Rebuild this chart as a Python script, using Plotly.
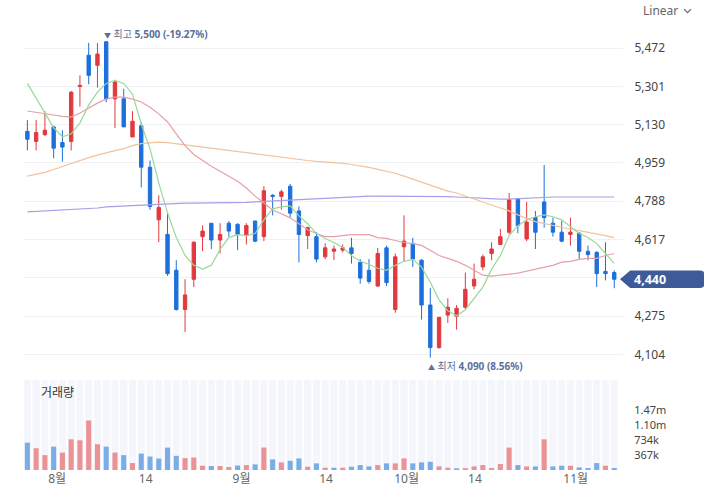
import plotly.graph_objects as go

# ---------------- data ----------------
x_labels = ["8월", "14", "9월", "14", "10월", "14", "11월"]
x_label_pos = [3.4, 13.5, 24.45, 34.1, 43.3, 51.1, 62.6]

open_ = [5100, 5055, 5085, 5120, 5050, 5055, 5300, 5440, 5395, 5500,
         5245, 5245, 5075, 5125, 4940, 4705, 4640, 4480, 4305, 4440,
         4630, 4690, 4615, 4690, 4685, 4635, 4700, 4630, 4815, 4810,
         4855, 4745, 4635, 4630, 4540, 4565, 4570, 4580, 4515, 4480,
         4410, 4580, 4305, 4585, 4600, 4525, 4325, 4135, 4280, 4275,
         4315, 4410, 4495, 4555, 4595, 4650, 4800, 4620, 4715, 4785,
         4690, 4650, 4640, 4645, 4565, 4560, 4475, 4470]
high = [5150, 5150, 5190, 5125, 5105, 5280, 5350, 5495, 5495, 5500,
        5330, 5290, 5190, 5140, 4970, 4815, 4735, 4525, 4440, 4610,
        4680, 4690, 4690, 4700, 4690, 4690, 4700, 4855, 4820, 4840,
        4865, 4765, 4675, 4650, 4600, 4590, 4595, 4625, 4530, 4530,
        4580, 4590, 4555, 4725, 4625, 4530, 4400, 4270, 4355, 4325,
        4470, 4510, 4550, 4605, 4665, 4825, 4800, 4785, 4745, 4950,
        4715, 4700, 4715, 4650, 4590, 4565, 4605, 4480]
low = [5015, 5015, 5080, 4980, 4965, 5015, 5210, 5310, 5295, 5230,
       5115, 5120, 5075, 4850, 4750, 4605, 4455, 4300, 4205, 4405,
       4565, 4575, 4555, 4630, 4570, 4595, 4605, 4610, 4725, 4750,
       4715, 4515, 4575, 4515, 4530, 4525, 4560, 4510, 4420, 4420,
       4405, 4410, 4290, 4520, 4495, 4260, 4090, 4130, 4245, 4215,
       4305, 4395, 4480, 4525, 4595, 4640, 4645, 4610, 4575, 4670,
       4630, 4605, 4590, 4530, 4525, 4405, 4435, 4400]
close = [5065, 5095, 5105, 5025, 5030, 5275, 5305, 5350, 5445, 5245,
         5320, 5120, 5145, 4940, 4765, 4760, 4465, 4305, 4370, 4605,
         4655, 4615, 4640, 4655, 4640, 4680, 4610, 4835, 4810, 4830,
         4735, 4640, 4670, 4530, 4580, 4575, 4580, 4555, 4445, 4430,
         4555, 4425, 4540, 4610, 4530, 4325, 4135, 4270, 4315, 4310,
         4395, 4440, 4540, 4575, 4630, 4795, 4680, 4695, 4650, 4715,
         4650, 4610, 4650, 4565, 4550, 4465, 4465, 4440]

ma5 = [5314, 5248, 5182, 5116, 5076, 5089, 5138, 5217, 5275, 5314,
       5328, 5314, 5266, 5133, 5023, 4869, 4736, 4626, 4546, 4502,
       4485, 4502, 4573, 4626, 4639, 4635, 4644, 4705, 4754, 4763,
       4767, 4723, 4688, 4644, 4622, 4604, 4582, 4546, 4520, 4507,
       4489, 4480, 4502, 4520, 4529, 4494, 4427, 4348, 4299, 4277,
       4304, 4352, 4405, 4485, 4546, 4635, 4679, 4705, 4719, 4727,
       4719, 4705, 4674, 4644, 4626, 4599, 4555, 4511]
ma20 = [5191, 5186, 5180, 5173, 5167, 5164, 5182, 5204, 5226, 5244,
        5253, 5253, 5244, 5231, 5208, 5178, 5142, 5089, 5036, 4997,
        4970, 4944, 4922, 4900, 4877, 4847, 4811, 4780, 4749, 4732,
        4714, 4688, 4661, 4644, 4630, 4630, 4635, 4639, 4639, 4639,
        4626, 4622, 4613, 4604, 4599, 4591, 4569, 4546, 4533, 4520,
        4502, 4480, 4458, 4454, 4458, 4463, 4467, 4476, 4485, 4494,
        4502, 4516, 4520, 4529, 4533, 4533, 4546, 4555]
ma60 = [4900, 4908, 4917, 4930, 4944, 4957, 4970, 4983, 4994, 5005,
        5014, 5023, 5036, 5045, 5050, 5052, 5050, 5045, 5039, 5034,
        5030, 5023, 5019, 5014, 5010, 5003, 4997, 4992, 4988, 4983,
        4979, 4975, 4970, 4966, 4964, 4961, 4957, 4952, 4946, 4939,
        4930, 4922, 4913, 4900, 4886, 4873, 4860, 4847, 4833, 4825,
        4811, 4798, 4785, 4772, 4758, 4745, 4727, 4710, 4697, 4688,
        4679, 4670, 4663, 4657, 4650, 4644, 4635, 4626]
ma120 = [4741, 4743, 4745, 4747, 4749, 4752, 4754, 4756, 4758, 4763,
         4765, 4767, 4769, 4772, 4774, 4776, 4778, 4778, 4780, 4780,
         4780, 4780, 4780, 4780, 4780, 4783, 4785, 4787, 4789, 4791,
         4794, 4796, 4798, 4800, 4802, 4805, 4807, 4809, 4809, 4811,
         4811, 4811, 4811, 4811, 4811, 4811, 4811, 4811, 4809, 4807,
         4805, 4802, 4800, 4798, 4798, 4798, 4800, 4802, 4805, 4807,
         4807, 4807, 4807, 4807, 4807, 4807, 4807, 4807]

volume = [665e3, 530e3, 362e3, 569e3, 424e3, 747e3, 723e3, 1205e3, 627e3, 569e3,
          424e3, 362e3, 169e3, 400e3, 328e3, 280e3, 545e3, 345e3, 289e3, 304e3,
          104e3, 96e3, 96e3, 72e3, 110e3, 120e3, 137e3, 547e3, 258e3, 186e3,
          224e3, 282e3, 80e3, 161e3, 55e3, 55e3, 55e3, 80e3, 120e3, 88e3,
          120e3, 161e3, 161e3, 282e3, 161e3, 186e3, 200e3, 88e3, 55e3, 40e3,
          45e3, 87e3, 120e3, 48e3, 145e3, 545e3, 120e3, 87e3, 87e3, 747e3,
          87e3, 104e3, 104e3, 63e3, 48e3, 169e3, 104e3, 48e3]

price_ticks = [4104, 4275, 4446, 4617, 4788, 4959, 5130, 5301, 5472]
price_ticktext = ["4,104", "4,275", "", "4,617", "4,788", "4,959", "5,130", "5,301", "5,472"]
vol_ticks = [367e3, 734e3, 1101e3, 1468e3]
vol_ticktext = ["367k", "734k", "1.10m", "1.47m"]

last_price = 4440
high_price, high_idx, high_txt = 5500, 9, "5,500 (-19.27%)"
low_price, low_idx, low_txt = 4090, 46, "4,090 (8.56%)"

# ---------------- styling ----------------
RED = "#e0393e"
BLUE = "#1d6fdc"
VRED = "rgba(232,128,130,0.85)"
VBLUE = "rgba(100,160,228,0.85)"
FONT = "Noto Sans, Noto Sans CJK KR, sans-serif"
VOL_MAX = 2190e3

n = len(close)
x = list(range(n))
vol_colors = [VBLUE] + [VRED if close[i] >= close[i - 1] else VBLUE for i in range(1, n)]

fig = go.Figure()

# volume panel background stripes
fig.add_trace(go.Bar(x=x, y=[VOL_MAX] * n, yaxis="y2", xaxis="x", width=0.82,
                     marker=dict(color="#f5f6fb", line=dict(width=0)), hoverinfo="skip"))
fig.add_trace(go.Bar(x=x, y=volume, yaxis="y2", xaxis="x", width=0.58,
                     marker=dict(color=vol_colors, line=dict(width=0))))

# moving averages
for vals, col in [(ma120, "#a99ee8"), (ma60, "#f2c29c"), (ma20, "#e6a0a6"), (ma5, "#98d898")]:
    fig.add_trace(go.Scatter(x=x, y=vals, mode="lines", xaxis="x", yaxis="y",
                             line=dict(color=col, width=1.2), hoverinfo="skip"))

fig.add_trace(go.Candlestick(
    x=x, open=open_, high=high, low=low, close=close, xaxis="x", yaxis="y",
    whiskerwidth=0,
    increasing=dict(line=dict(color=RED, width=1), fillcolor=RED),
    decreasing=dict(line=dict(color=BLUE, width=1), fillcolor=BLUE),
))

fig.update_layout(
    width=708, height=499,
    margin=dict(l=23, r=85, t=20, b=24),
    paper_bgcolor="white", plot_bgcolor="white",
    showlegend=False, barmode="overlay", boxgap=0.45,
    font=dict(family=FONT, size=12, color="#444"),
    xaxis=dict(domain=[0, 1], range=[-0.5, 68], anchor="y2",
               tickvals=x_label_pos, ticktext=x_labels,
               showgrid=False, zeroline=False, showline=False, ticks="",
               rangeslider=dict(visible=False),
               tickfont=dict(size=12, color="#666")),
    yaxis=dict(domain=[0.2088, 1], range=[4008, 5597], side="right", anchor="x",
               tickvals=price_ticks, ticktext=price_ticktext,
               showgrid=True, gridcolor="#f1f1f3", gridwidth=1, zeroline=False,
               ticks="outside", ticklen=8, tickcolor="rgba(0,0,0,0)",
               tickfont=dict(size=12, color="#444")),
    yaxis2=dict(domain=[0, 0.2], range=[0, VOL_MAX], side="right", anchor="x",
                tickvals=vol_ticks, ticktext=vol_ticktext,
                showgrid=False, zeroline=False,
                ticks="outside", ticklen=8, tickcolor="rgba(0,0,0,0)",
                tickfont=dict(size=11, color="#444")),
)

# current price tag
half = 39
fig.add_shape(type="path", xref="paper", yref="y",
              path=(f"M 0.995,{last_price} L 1.012,{last_price + half} L 1.128,{last_price + half} "
                    f"Q 1.135,{last_price + half} 1.135,{last_price + half - 12} "
                    f"L 1.135,{last_price - half + 12} Q 1.135,{last_price - half} 1.128,{last_price - half} "
                    f"L 1.012,{last_price - half} Z"),
              fillcolor="#3e5a98", line=dict(width=0), layer="above")
fig.add_annotation(xref="paper", yref="y", x=1.015, y=last_price, xanchor="left",
                   text=f"<b>{last_price:,}</b>", showarrow=False,
                   font=dict(color="white", size=12.5, family=FONT))

# high / low markers
ANN = "#5d6f9c"
fig.add_annotation(x=high_idx, y=high_price, xref="x", yref="y", xanchor="left", yanchor="middle",
                   xshift=-4, yshift=8, showarrow=False,
                   text=f"<span style='font-size:7px'>▼</span> 최고 <b>{high_txt}</b>",
                   font=dict(size=10, color=ANN, family=FONT))
fig.add_annotation(x=low_idx, y=low_price, xref="x", yref="y", xanchor="left", yanchor="middle",
                   xshift=-4, yshift=-8, showarrow=False,
                   text=f"<span style='font-size:7px'>▲</span> 최저 <b>{low_txt}</b>",
                   font=dict(size=10, color=ANN, family=FONT))

# volume label
fig.add_annotation(xref="paper", yref="paper", x=0.027, y=0.172, xanchor="left", yanchor="middle",
                   text="거래량", showarrow=False, font=dict(size=12, color="#333", family=FONT))

# scale selector
fig.add_annotation(xref="paper", yref="paper", x=1.063, y=1.02, xanchor="center", yanchor="middle",
                   text="Linear", showarrow=False, font=dict(size=12, color="#666", family=FONT))
fig.add_shape(type="path", xref="paper", yref="paper",
              path="M 1.1017,1.0242 L 1.1075,1.0165 L 1.1133,1.0242",
              line=dict(color="#666", width=1.2))

fig.write_html("out.html")
